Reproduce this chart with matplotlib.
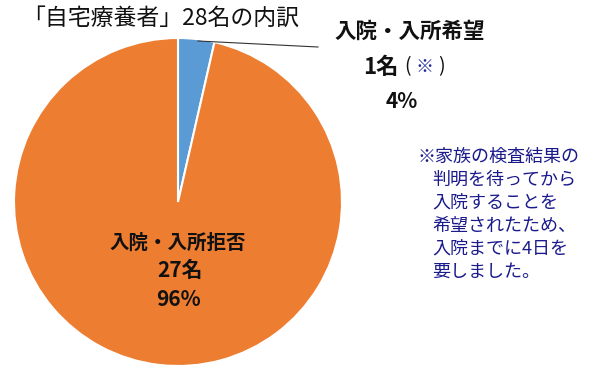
import matplotlib.pyplot as plt

plt.rcParams['font.family'] = ['Noto Sans CJK JP', 'DejaVu Sans']

title = '「自宅療養者」28名の内訳'
labels = ['入院・入所希望', '入院・入所拒否']
counts = [1, 27]
shares = ['4%', '96%']
colors = ['#5B9BD5', '#ED7D31']
note_lines = ['※家族の検査結果の', '判明を待ってから', '入院することを',
              '希望されたため、', '入院までに4日を', '要しました。']

fig = plt.figure(figsize=(6, 3.72), dpi=100)
ax = fig.add_axes([0, 0, 1, 1])

# pixel-style coords: y measured from top
def Y(y):
    return 372 - y

ax.pie(counts, colors=colors, startangle=90, counterclock=False,
       center=(178, Y(202)), radius=164,
       wedgeprops=dict(edgecolor='white', linewidth=1.5), frame=True)
ax.set_xlim(0, 600)
ax.set_ylim(0, 372)
ax.set_aspect('equal')
ax.axis('off')

ax.text(22, Y(18), title, fontsize=16.5, ha='left', va='center', color='#111111')

# leader line for small slice
ax.plot([198, 318], [Y(41), Y(47)], color='#333333', lw=0.8)

# small slice label
ax.text(410, Y(31), labels[0], fontsize=15.5, fontweight='bold',
        ha='center', va='center', color='#111111')
ax.text(381, Y(67), f'{counts[0]}名', fontsize=16, fontweight='bold',
        ha='center', va='center', color='#111111')
ax.text(407, Y(67), '(', fontsize=14, ha='center', va='center', color='#111111')
ax.text(424, Y(67), '※', fontsize=13, ha='center', va='center', color='#1f2a9c')
ax.text(441, Y(67), ')', fontsize=14, ha='center', va='center', color='#111111')
ax.text(402, Y(101), shares[0], fontsize=15, fontweight='bold',
        ha='center', va='center', color='#111111')

# large slice label
ax.text(178, Y(243), labels[1], fontsize=14, fontweight='bold',
        ha='center', va='center', color='#111111')
ax.text(180, Y(270), f'{counts[1]}名', fontsize=15, fontweight='bold',
        ha='center', va='center', color='#111111')
ax.text(178, Y(299), shares[1], fontsize=15, fontweight='bold',
        ha='center', va='center', color='#111111')

# footnote
for i, line in enumerate(note_lines):
    x = 418 if i == 0 else 432
    ax.text(x, Y(157 + 23 * i), line, fontsize=13, ha='left', va='center',
            color='#1a1a8c')

fig.savefig('out.png', dpi=100)
